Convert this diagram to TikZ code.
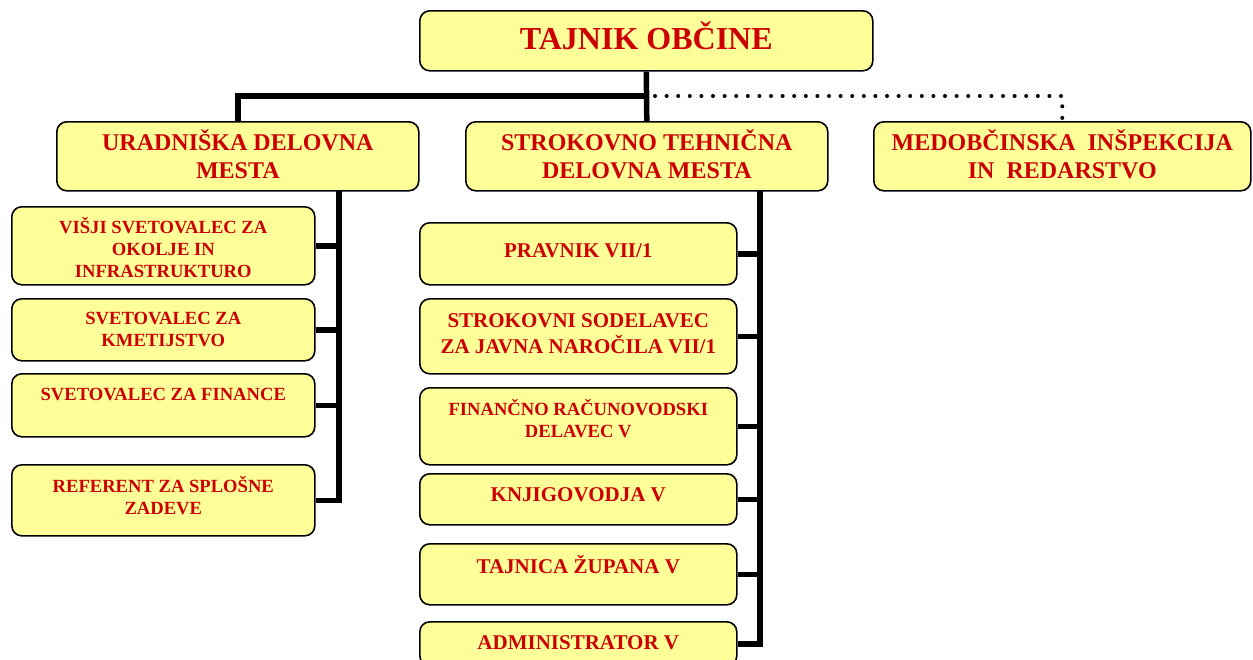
\documentclass[tikz,border=0pt]{standalone}
\usepackage{fontspec}
\setmainfont{Liberation Serif}
\usetikzlibrary{positioning}

\definecolor{boxfill}{RGB}{255,255,153}
\definecolor{boxred}{RGB}{204,0,0}

% text lines of a box, raised by #1
\newcommand{\lifted}[2]{\raisebox{#1}[\height][\depth]{\begin{tabular}{@{}c@{}}#2\end{tabular}}}

\tikzset{
  post/.style={draw=black, line width=1.6pt, rounded corners=10pt, fill=boxfill,
    text=boxred, align=center, inner sep=0pt, anchor=north west},
  chief/.style={post, font=\fontsize{32}{36}\selectfont\bfseries},
  head/.style={post, font=\fontsize{24}{28}\selectfont\bfseries},
  mid/.style={post, font=\fontsize{21}{25.5}\selectfont\bfseries},
  small/.style={post, font=\fontsize{18.6}{22}\selectfont\bfseries},
  link/.style={line width=5.5pt},
  dotlink/.style={line width=4pt, line cap=round, dash pattern=on 0pt off 11.6pt}
}

\begin{document}
\begin{tikzpicture}[x=1pt,y=-1pt]
  \useasboundingbox (0,0) rectangle (1253,659);

  % top
  \node[chief, minimum width=453pt, minimum height=60pt] (top) at (419,10) {\lifted{0pt}{TAJNIK OBČINE}};

  % second level
  \node[head, minimum width=362pt, minimum height=69pt] (ura) at (56,121) {\lifted{-2pt}{URADNIŠKA DELOVNA\\MESTA}};
  \node[head, minimum width=362pt, minimum height=69pt] (str) at (465,121) {\lifted{-2pt}{STROKOVNO TEHNIČNA\\DELOVNA MESTA}};
  \node[head, minimum width=377pt, minimum height=69pt] (med) at (873,121) {\lifted{-2pt}{MEDOBČINSKA\ \ INŠPEKCIJA\\IN\ \ REDARSTVO}};

  % left column
  \node[small, minimum width=303pt, minimum height=78pt] (l1) at (11,206) {\lifted{-4.5pt}{VIŠJI SVETOVALEC ZA\\OKOLJE IN\\INFRASTRUKTURO}};
  \node[small, minimum width=303pt, minimum height=62pt] (l2) at (11,298) {\lifted{-1pt}{SVETOVALEC ZA\\KMETIJSTVO}};
  \node[small, minimum width=303pt, minimum height=63pt] (l3) at (11,373) {\lifted{9.5pt}{SVETOVALEC ZA FINANCE}};
  \node[small, minimum width=303pt, minimum height=71pt] (l4) at (11,464) {\lifted{1.8pt}{REFERENT ZA SPLOŠNE\\ZADEVE}};

  % middle column
  \node[mid, minimum width=317pt, minimum height=62pt] (m1) at (419,222) {\lifted{1pt}{PRAVNIK VII/1}};
  \node[mid, minimum width=317pt, minimum height=75pt] (m2) at (419,298) {\lifted{0.8pt}{STROKOVNI SODELAVEC\\ZA JAVNA NAROČILA VII/1}};
  \node[small, minimum width=317pt, minimum height=77pt] (m3) at (419,387) {\lifted{4.2pt}{FINANČNO RAČUNOVODSKI\\DELAVEC V}};
  \node[mid, minimum width=317pt, minimum height=51pt] (m4) at (419,473) {\lifted{2.7pt}{KNJIGOVODJA V}};
  \node[mid, minimum width=317pt, minimum height=61pt] (m5) at (419,543) {\lifted{6.2pt}{TAJNICA ŽUPANA V}};
  \node[mid, minimum width=317pt, minimum height=44pt] (m6) at (419,621) {\lifted{-0.8pt}{ADMINISTRATOR V}};

  % connectors
  \coordinate (bus) at (646,96);
  \draw[link] (top.south) -- (str.north);
  \draw[link] (bus) -| (ura.north);
  \draw[dotlink] (bus) ++(9,0) -| (med.north);

  \coordinate (lt) at (339,190);
  \draw[link] (lt) |- (l4.east);
  \foreach \n in {l1,l2,l3}
    \draw[link] (\n.east) -- (\n.east -| lt);

  \coordinate (mt) at (760,190);
  \draw[link] (mt) |- (m6.east);
  \foreach \n in {m1,m2,m3,m4,m5}
    \draw[link] (\n.east) -- (\n.east -| mt);
\end{tikzpicture}
\end{document}
